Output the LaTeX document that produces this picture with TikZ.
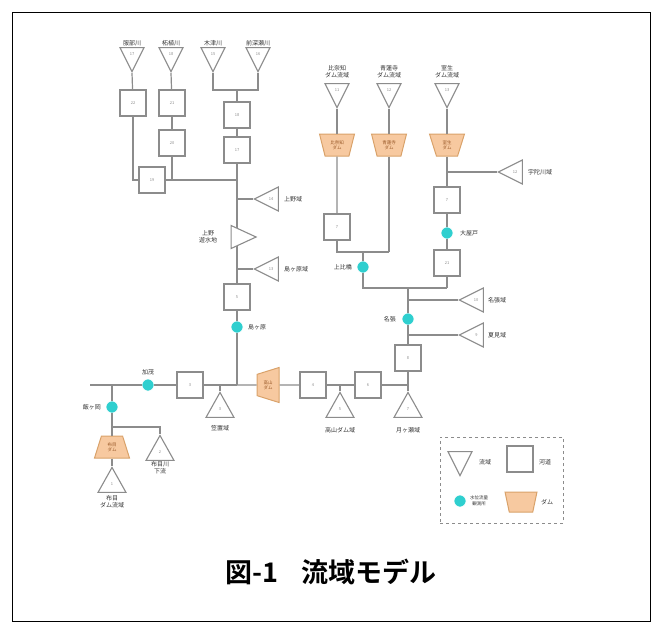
\documentclass[tikz,border=0pt]{standalone}
\usepackage{fontspec}
\newfontfamily\jp{Noto Sans CJK JP}
\newfontfamily\jpb{Noto Sans CJK JP Bold}
\usetikzlibrary{shapes.geometric}
\definecolor{linec}{HTML}{8C8C8C}
\definecolor{gaugec}{HTML}{2FCFCF}
\definecolor{damfill}{HTML}{F7C9A0}
\definecolor{damdraw}{HTML}{D9A26A}
\definecolor{damtext}{HTML}{9A5A2A}
\definecolor{labc}{HTML}{333333}
\begin{document}
\begin{tikzpicture}[x=1pt,y=-1pt,
  ln/.style={draw=linec, line width=1.2pt},
  box/.style={draw=linec, line width=1.1pt, fill=white, minimum size=26pt, inner sep=0pt,
    font=\jp\fontsize{4}{4}\selectfont, text=linec},
  tri/.style={isosceles triangle, isosceles triangle stretches, draw=linec, line width=1.1pt,
    fill=white, inner sep=0pt, minimum width=24pt, minimum height=24pt,
    font=\jp\fontsize{4}{4}\selectfont, text=linec},
  tdown/.style={tri, shape border rotate=270},
  tup/.style={tri, shape border rotate=90},
  tleft/.style={tri, shape border rotate=180},
  tright/.style={tri, shape border rotate=0},
  gauge/.style={circle, fill=gaugec, draw=white, line width=0.6pt, minimum size=12pt, inner sep=0pt},
  dam/.style={trapezium, trapezium stretches, trapezium left angle=72, trapezium right angle=72,
    draw=damdraw, fill=damfill, line width=1pt, minimum width=35pt, minimum height=22pt,
    inner sep=1pt, font=\jp\fontsize{4.5}{5}\selectfont, text=damtext, align=center},
  damdown/.style={dam, shape border rotate=180},
  lab/.style={font=\jp\fontsize{6}{7}\selectfont, text=labc, inner sep=1pt, align=center}
]
\useasboundingbox (0,0) rectangle (661,633);
\draw[black, line width=1pt] (12,12) rectangle (650,621);

% ---------- top-left group ----------
\node[tdown,anchor=apex] (t1) at (132,73) {17};
\node[tdown,anchor=apex] (t2) at (171,73) {18};
\node[tdown,anchor=apex] (t3) at (213,73) {15};
\node[tdown,anchor=apex] (t4) at (258,73) {16};
\node[lab] (t1l) at (132,43) {服部川};
\node[lab] (t2l) at (171,43) {柘植川};
\node[lab] (t3l) at (213,43) {木津川};
\node[lab] (t4l) at (258,43) {前深瀬川};

\node[box] (b1) at (133,103) {22};
\node[box] (b2) at (172,103) {21};
\node[box] (b3) at (172,143) {20};
\node[box] (b4) at (237,115) {18};
\node[box] (b5) at (237,150) {17};
\node[box] (b6) at (152,180) {19};
\coordinate (m34) at (237,90);
\coordinate (j1) at (237,180);
\coordinate (j2) at (237,199);
\coordinate (j3) at (237,269);

\draw[ln] (t1.apex) -- (b1);
\draw[ln] (b1) |- (b6);
\draw[ln] (t2.apex) -- (b2);
\draw[ln] (b2) -- (b3);
\draw[ln] (b3) -- (b3 |- j1);
\draw[ln] (b6) -- (j1);
\draw[ln] (t3.apex) |- (m34) -| (t4.apex);
\draw[ln] (m34) -- (b4);
\draw[ln] (b4) -- (b5);
\draw[ln] (b5) -- (j1);
\draw[ln] (j1) -- (j2) -- (j3);

\node[tleft,anchor=apex] (tA) at (253,199) {14};
\node[lab,anchor=west] (tAl) at (283,199) {上野域};
\draw[ln] (j2) -- (tA.apex);

\node[tright,minimum width=23pt,minimum height=25pt] (tB) at (238,237) {\phantom{1}};
\node[lab] (tBl) at (208,237) {上野\\遊水地};

\node[tleft,anchor=apex] (tC) at (253,269) {13};
\node[lab,anchor=west] (tCl) at (283,269) {島ヶ原域};
\draw[ln] (j3) -- (tC.apex);

\node[box] (b7) at (237,297) {5};
\node[gauge] (c1) at (237,327) {};
\node[lab,anchor=west] (c1l) at (247,327) {島ヶ原};
\coordinate (j4) at (237,385);
\draw[ln] (j3) -- (b7);
\draw[ln] (b7) -- (c1);
\draw[ln] (c1) -- (j4);

% ---------- main line ----------
\coordinate (L) at (90,385);
\node[gauge] (c2) at (148,385) {};
\node[lab] (c2l) at (148,372) {加茂};
\node[box] (b8) at (190,385) {3};
\node[dam, shape border rotate=90, minimum width=35pt, minimum height=22pt] (d4) at (268,385) {高山\\ダム};
\node[box] (b9) at (313,385) {4};
\node[box] (b10) at (368,385) {6};
\coordinate (j5) at (408,385);
\draw[ln] (L) -- (c2);
\draw[ln] (c2) -- (b8);
\draw[ln] (b8) -- (j4);
\draw[ln] (j4) -- (d4);
\draw[ln] (d4) -- (b9);
\draw[ln] (b9) -- (b10);
\draw[ln] (b10) -- (j5);

\node[tup,anchor=apex,minimum width=28pt,minimum height=25pt] (tS1) at (220,391) {3};
\node[lab] (tS1l) at (220,428) {笠置域};
\draw[ln] (tS1.apex) -- (tS1.apex |- j4);
\node[tup,anchor=apex,minimum width=28pt,minimum height=25pt] (tS2) at (340,391) {5};
\node[lab] (tS2l) at (340,430) {高山ダム域};
\draw[ln] (tS2.apex) -- (tS2.apex |- j4);
\node[tup,anchor=apex,minimum width=28pt,minimum height=25pt] (tS3) at (408,391) {7};
\node[lab] (tS3l) at (408,430) {月ヶ瀬域};
\draw[ln] (tS3.apex) -- (j5);

% ---------- lower-left ----------
\coordinate (j0) at (112,385);
\node[gauge] (c6) at (112,407) {};
\node[lab,anchor=east] (c6l) at (102,407) {飯ヶ岡};
\coordinate (j10) at (112,427);
\node[dam] (d5) at (112,447) {布目\\ダム};
\node[tup,anchor=apex,minimum width=28pt,minimum height=25pt] (tH) at (112,466) {1};
\node[lab] (tHl) at (112,502) {布目\\ダム流域};
\node[tup,anchor=apex,minimum width=28pt,minimum height=25pt] (tG) at (160,434) {2};
\node[lab] (tGl) at (160,468) {布目川\\下流};
\draw[ln] (j0) -- (c6);
\draw[ln] (c6) -- (j10);
\draw[ln] (j10) -- (d5);
\draw[ln] (d5) -- (tH.apex);
\draw[ln] (j10) -| (tG.apex);

% ---------- right group ----------
\node[box] (b11) at (408,358) {8};
\coordinate (j6) at (408,335);
\node[gauge] (c3) at (408,319) {};
\node[lab,anchor=east] (c3l) at (397,319) {名張};
\coordinate (j7) at (408,300);
\coordinate (j8) at (408,288);
\node[tleft,anchor=apex] (tD) at (458,300) {10};
\node[lab,anchor=west] (tDl) at (487,300) {名張域};
\node[tleft,anchor=apex] (tE) at (458,335) {9};
\node[lab,anchor=west] (tEl) at (487,335) {夏見域};
\draw[ln] (j5) -- (b11);
\draw[ln] (b11) -- (j6) -- (c3);
\draw[ln] (c3) -- (j7) -- (j8);
\draw[ln] (j7) -- (tD.apex);
\draw[ln] (j6) -- (tE.apex);

\coordinate (k1) at (363,288);
\coordinate (k2) at (447,288);
\node[gauge] (c4) at (363,267) {};
\node[lab,anchor=east] (c4l) at (353,267) {上比橋};
\coordinate (k3) at (363,252);
\coordinate (k4) at (337,252);
\coordinate (k5) at (389,252);

\node[tdown,anchor=apex] (t5) at (337,109) {11};
\node[tdown,anchor=apex] (t6) at (389,109) {12};
\node[tdown,anchor=apex] (t7) at (447,109) {13};
\node[lab] (t5l) at (337,72) {比奈知\\ダム流域};
\node[lab] (t6l) at (389,72) {青蓮寺\\ダム流域};
\node[lab] (t7l) at (447,72) {室生\\ダム流域};
\node[damdown] (d1) at (337,145) {比奈知\\ダム};
\node[damdown] (d2) at (389,145) {青蓮寺\\ダム};
\node[damdown] (d3) at (447,145) {室生\\ダム};
\node[box] (b12) at (337,227) {7};
\coordinate (j9) at (447,172);
\node[tleft,anchor=apex] (tF) at (497,172) {12};
\node[lab,anchor=west] (tFl) at (527,172) {宇陀川域};
\node[box] (b13) at (447,200) {7};
\node[gauge] (c5) at (447,233) {};
\node[lab,anchor=west] (c5l) at (459,233) {大屋戸};
\node[box] (b14) at (447,263) {21};

\draw[ln] (t5.apex) -- (d1);
\draw[ln] (d1) -- (b12);
\draw[ln] (b12) -- (k4) -- (k3) -- (k5);
\draw[ln] (t6.apex) -- (d2);
\draw[ln] (d2) -- (k5);
\draw[ln] (k3) -- (c4);
\draw[ln] (c4) -- (k1) -- (j8) -- (k2);
\draw[ln] (k2) -- (b14);
\draw[ln] (t7.apex) -- (d3);
\draw[ln] (d3) -- (j9) -- (b13);
\draw[ln] (j9) -- (tF.apex);
\draw[ln] (b13) -- (c5);
\draw[ln] (c5) -- (b14);

% ---------- legend ----------
\node[draw=linec, dashed, line width=1pt, minimum width=123pt, minimum height=86pt, inner sep=0pt] (leg) at (501.5,480) {};
\node[tdown,anchor=apex] (lt) at (460,477) {\phantom{1}};
\node[lab,anchor=west] (ltl) at (478,462) {流域};
\node[box] (lb) at (520,459) {};
\node[lab,anchor=west] (lbl) at (538,462) {河道};
\node[gauge] (lc) at (460,501) {};
\node[lab,anchor=west,font=\jp\fontsize{4.5}{5.5}\selectfont] (lcl) at (469,501) {水位流量\\観測所};
\node[damdown,minimum width=32pt,minimum height=20pt] (ld) at (521,502) {\phantom{ダム}};
\node[lab,anchor=west] (ldl) at (540,502) {ダム};

% ---------- title ----------
\node[font=\jpb\fontsize{27}{29}\selectfont, text=black] (title) at (331,572) {図-1\hspace{24pt}流域モデル};
\end{tikzpicture}
\end{document}
